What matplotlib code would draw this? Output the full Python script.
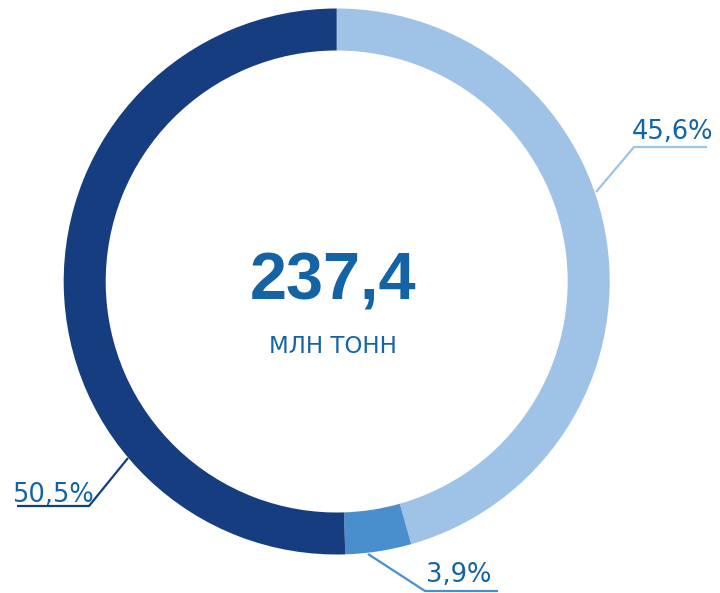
import matplotlib
matplotlib.use("Agg")
import matplotlib.pyplot as plt

# Структура (доли, %)
доли = [45.6, 3.9, 50.5]
подписи = ["45,6%", "3,9%", "50,5%"]
цвета = ["#9fc2e7", "#4a8fcd", "#163d80"]
итого = "237,4"
единицы = "МЛН ТОНН"

ЦВЕТ_ТЕКСТА = "#1464a5"

fig = plt.figure(figsize=(7.2, 5.93), dpi=100)
ax = fig.add_axes([0, 0, 1, 1])

# координаты в пикселях, ось y перевёрнута
cx, cy, R = 336.7, 281.5, 273.0
ax.pie(доли, colors=цвета, startangle=-90, counterclock=True,
       center=(cx, cy), radius=R,
       wedgeprops=dict(width=42, edgecolor="none"))
ax.set_xlim(0, 720)
ax.set_ylim(593, 0)
ax.set_aspect("equal")
ax.set_axis_off()

ax.text(333, 300, итого, ha="center", va="baseline", fontsize=48,
        fontweight="bold", family="Liberation Sans", color=ЦВЕТ_ТЕКСТА)
ax.text(333, 353, единицы, ha="center", va="baseline", fontsize=16.5,
        family="DejaVu Sans", color=ЦВЕТ_ТЕКСТА)

# выноски: (точка на кольце, излом, конец), позиция текста
выноски = [
    ([596, 634, 707], [192, 147, 147], (632, 139)),
    ([368, 425, 498], [554, 591, 591], (426, 582)),
    ([128, 89, 17], [458, 506, 506], (12, 502)),
]
for (xs, ys, (tx, ty)), txt, col in zip(выноски, подписи, цвета):
    ax.plot(xs, ys, color=col, lw=1.6, solid_capstyle="butt")
    ax.text(tx, ty, txt, ha="left", va="baseline", fontsize=18.5,
            family="DejaVu Sans", color=ЦВЕТ_ТЕКСТА)

fig.savefig("out.png", dpi=100, facecolor="white")
